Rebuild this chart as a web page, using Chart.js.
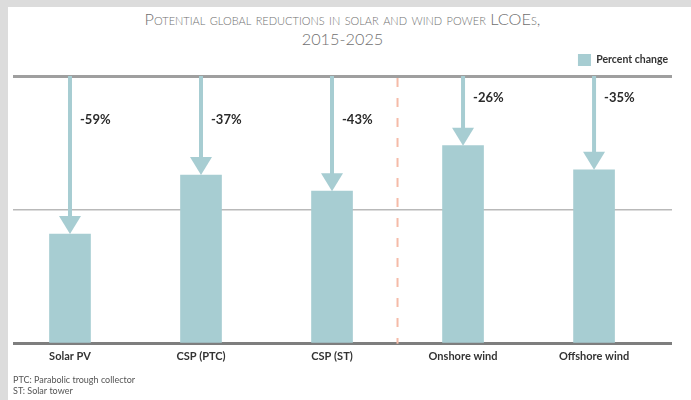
<!DOCTYPE html>
<html>
<head>
<meta charset="utf-8">
<script src="https://cdn.jsdelivr.net/npm/chart.js@4/dist/chart.umd.min.js"></script>
<style>
  html, body { margin: 0; padding: 0; width: 691px; height: 400px; overflow: hidden; background: #dcdcdc; }
  #panel { position: absolute; left: 8px; top: 7px; right: 0; bottom: 0; background: #ffffff; }
  #title {
    position: absolute; left: 13px; width: 659px; top: 9px;
    text-align: center; font-family: Lato, "Open Sans", sans-serif;
    font-size: 16.3px; line-height: 20px; font-variant: small-caps;
    font-weight: 300; color: #707070;
  }
  #wrap { position: absolute; left: 0; top: 0; width: 691px; height: 400px; }
</style>
</head>
<body>
<div id="panel"></div>
<div id="title">Potential global reductions in solar and wind power LCOEs,<br>2015-2025</div>
<div id="wrap"><canvas id="chart"></canvas></div>
<script>
// Technologies and their projected LCOE change, 2015 -> 2025
const categories = ['Solar PV', 'CSP (PTC)', 'CSP (ST)', 'Onshore wind', 'Offshore wind'];
const technologyGroup = ['Solar', 'Solar', 'Solar', 'Wind', 'Wind'];
const percentChange = [-59, -37, -43, -26, -35];
const seriesLabel = 'Percent change';
const footnotes = ['PTC: Parabolic trough collector', 'ST: Solar tower'];
// 2015 LCOE indexed to 100
const baseline = 100;

const barColor = '#a7cdd2';

// Dashed divider between the solar and the wind technologies
const groupDivider = {
  id: 'groupDivider',
  beforeDatasetsDraw(chart, args, opts) {
    const { ctx, scales: { x, y } } = chart;
    const firstOfNext = technologyGroup.findIndex((g, k) => k > 0 && g !== technologyGroup[k - 1]);
    if (firstOfNext < 0) return;
    const px = x.getPixelForValue(firstOfNext - 0.5);
    ctx.save();
    ctx.strokeStyle = opts.color;
    ctx.lineWidth = opts.width;
    ctx.setLineDash(opts.dash);
    ctx.beginPath();
    ctx.moveTo(px, y.getPixelForValue(baseline) + 2);
    ctx.lineTo(px, y.getPixelForValue(0));
    ctx.stroke();
    ctx.restore();
  }
};

// Downward arrows from the 2015 level to each bar, with the change printed beside them
const changeArrows = {
  id: 'changeArrows',
  afterDatasetsDraw(chart, args, opts) {
    const { ctx, scales: { y } } = chart;
    const top = y.getPixelForValue(baseline);
    const bars = chart.getDatasetMeta(0).data;
    ctx.save();
    bars.forEach((bar, i) => {
      const px = bar.x;
      const tip = bar.y;
      const headTop = tip - opts.headLength;
      ctx.strokeStyle = opts.color;
      ctx.lineWidth = opts.shaftWidth;
      ctx.beginPath();
      ctx.moveTo(px, top);
      ctx.lineTo(px, headTop + 1);
      ctx.stroke();
      ctx.fillStyle = opts.color;
      ctx.beginPath();
      ctx.moveTo(px - opts.headWidth / 2, headTop);
      ctx.lineTo(px + opts.headWidth / 2, headTop);
      ctx.lineTo(px, tip);
      ctx.closePath();
      ctx.fill();

      ctx.fillStyle = opts.labelColor;
      ctx.font = opts.font;
      ctx.textAlign = 'left';
      ctx.textBaseline = 'middle';
      ctx.fillText(percentChange[i] + '%', px + opts.labelGap, top + opts.labelDrop[technologyGroup[i]]);
    });
    ctx.restore();
  }
};

const lineStyle = {
  [baseline]: { color: '#9f9f9f', width: 3 },
  50: { color: '#b9b9b9', width: 1.5 },
  0: { color: '#7e7e7e', width: 3 }
};

new Chart(document.getElementById('chart'), {
  type: 'bar',
  data: {
    datasets: [{
      label: seriesLabel,
      data: categories.map((c, i) => ({ x: i, y: baseline + percentChange[i] })),
      backgroundColor: barColor,
      borderWidth: 0,
      barThickness: 41
    }]
  },
  options: {
    responsive: true,
    maintainAspectRatio: false,
    animation: false,
    layout: { padding: { left: 13, right: 19, top: 50, bottom: 3 } },
    scales: {
      x: {
        type: 'linear',
        offset: false,
        min: -0.435,
        max: categories.length - 0.405,
        afterBuildTicks: (scale) => { scale.ticks = categories.map((c, i) => ({ value: i })); },
        grid: { display: false, drawTicks: false },
        border: { display: false },
        ticks: {
          autoSkip: false,
          maxRotation: 0,
          padding: 6,
          color: '#333333',
          font: { family: 'Lato', size: 11, weight: 'bold' },
          callback: (v) => categories[v]
        }
      },
      y: {
        min: 0,
        max: baseline,
        border: { display: false },
        grid: {
          drawTicks: false,
          color: (c) => (lineStyle[c.tick.value] || {}).color || 'transparent',
          lineWidth: (c) => (lineStyle[c.tick.value] || {}).width || 0
        },
        ticks: { display: false, stepSize: 50 }
      }
    },
    plugins: {
      legend: {
        position: 'top',
        align: 'end',
        labels: {
          boxWidth: 13,
          boxHeight: 12,
          padding: 4,
          color: '#333333',
          font: { family: 'Lato', size: 10.5, weight: 'bold' }
        }
      },
      title: { display: false },
      subtitle: {
        display: true,
        position: 'bottom',
        align: 'start',
        text: footnotes,
        color: '#555555',
        font: { family: 'Lato', size: 9, weight: 'normal', lineHeight: 1.22 },
        padding: { top: 6, bottom: 0 }
      },
      tooltip: { enabled: false },
      groupDivider: { color: '#f5bba8', width: 2, dash: [9, 11] },
      changeArrows: {
        color: barColor,
        shaftWidth: 4,
        headWidth: 22,
        headLength: 18,
        labelGap: 10,
        labelColor: '#2b2b2b',
        font: 'bold 13px Lato',
        labelDrop: { Solar: 44, Wind: 22 }
      }
    }
  },
  plugins: [groupDivider, changeArrows]
});
</script>
</body>
</html>
